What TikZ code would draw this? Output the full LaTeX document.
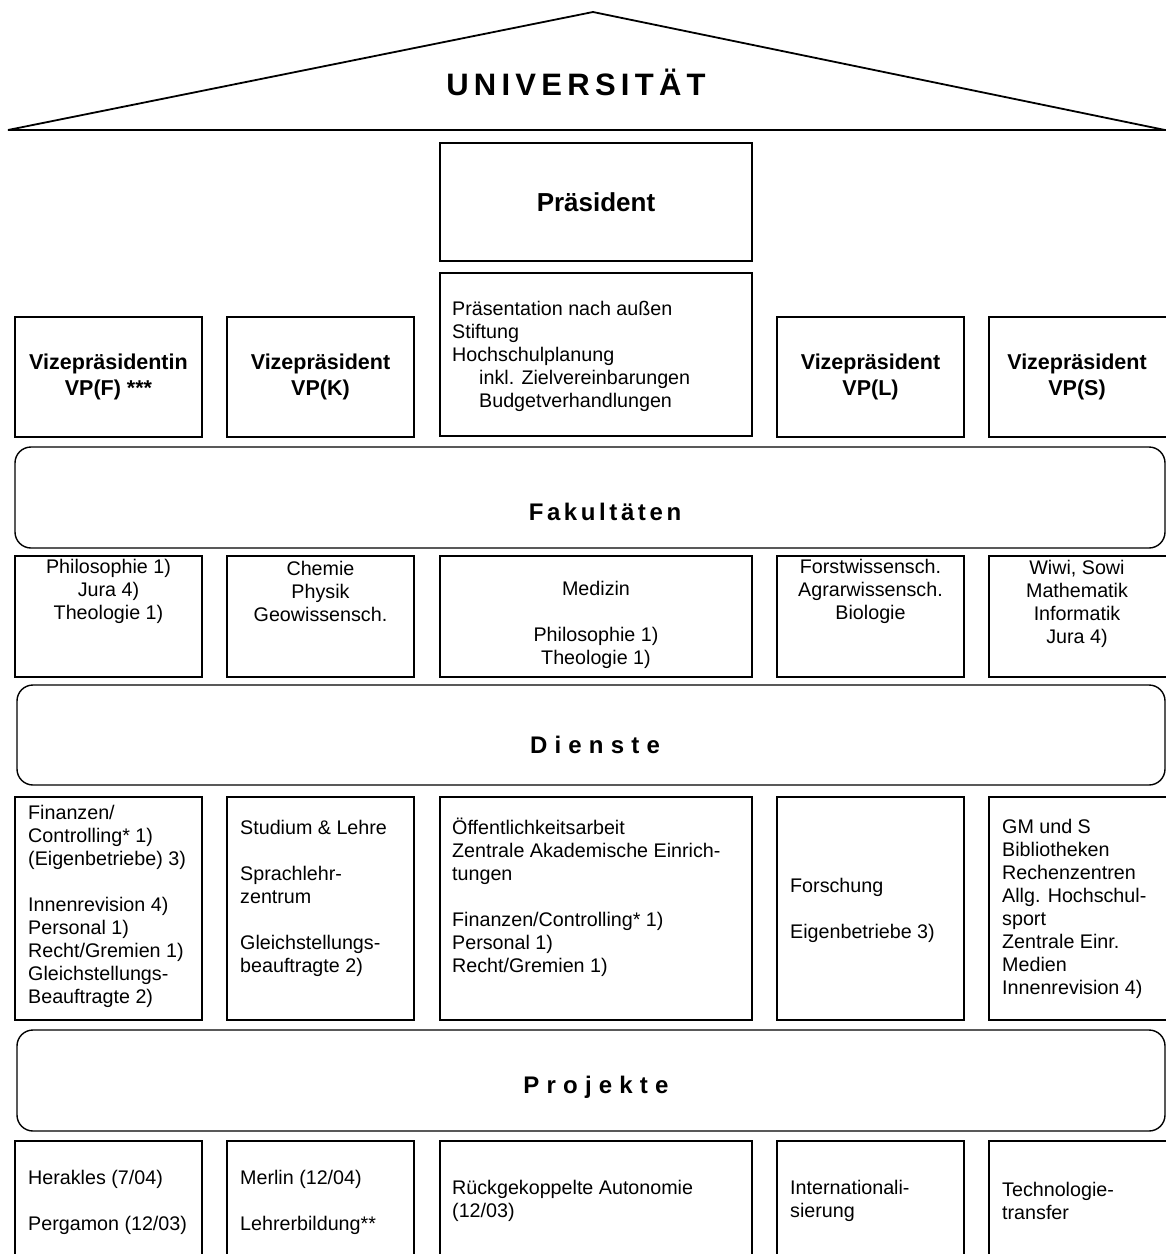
\documentclass[tikz,border=0pt]{standalone}
\usepackage{fontspec}
\setmainfont{Liberation Sans}
\usetikzlibrary{calc}

\begin{document}
\begin{tikzpicture}[x=1pt, y=-1pt,
    roof/.style={line width=1.8pt, line join=miter},
    box/.style={line width=1.2pt},
    bar/.style={line width=1.4pt, rounded corners=16pt},
    txt/.style={inner sep=0pt, align=left, font=\fontsize{19.7}{23}\selectfont},
    ctxt/.style={txt, align=center},
    vp/.style={inner sep=0pt, align=center, font=\bfseries\fontsize{21.5}{26}\selectfont},
    head/.style={inner sep=0pt, font=\bfseries\fontsize{26}{30}\selectfont},
    banner/.style={inner sep=0pt, font=\bfseries\fontsize{24}{28}\selectfont\addfontfeature{LetterSpace=#1}},
    every node/.style={color=black}]
    \useasboundingbox (0,0) rectangle (1166,1254);

    % dach
    \coordinate (eaveL) at (8,130);
    \coordinate (apex) at (593,12);
    \coordinate (eaveR) at (1165,130);
    \draw[roof] (eaveL) -- (apex) -- (eaveR) -- cycle;
    \node[inner sep=0pt, font=\bfseries\fontsize{31}{34}\selectfont\addfontfeature{LetterSpace=17}] (uni) at (576,82) {UNIVERSITÄT};

    % praesident und stab
    \draw[box] (440,143) rectangle (752,261);
    \node[head] (praes) at (596,202) {Präsident};
    \draw[box] (440,273) rectangle (752,436);
    \node[txt, anchor=west] (stab) at (452,356) {Präsentation nach außen\\Stiftung\\Hochschulplanung\\
        \hspace*{27pt}inkl. Zielvereinbarungen\\\hspace*{27pt}Budgetverhandlungen};

    % vizepraesidenten
    \draw[box] (15,317) rectangle (202,437)
               (227,317) rectangle (414,437)
               (777,317) rectangle (964,437)
               (989,317) rectangle (1180,437);
    \node[vp] (vpF) at (108.5,377) {Vizepräsidentin\\VP(F) ***};
    \node[vp] (vpK) at (320.5,377) {Vizepräsident\\VP(K)};
    \node[vp] (vpL) at (870.5,377) {Vizepräsident\\VP(L)};
    \node[vp] (vpS) at (1077,377) {Vizepräsident\\VP(S)};

    % fakultaeten
    \draw[bar] (15,447) rectangle (1165,548);
    \node[banner=15] (fak) at (605,512) {Fakultäten};
    \draw[box] (15,556) rectangle (202,677)
               (227,556) rectangle (414,677)
               (440,556) rectangle (752,677)
               (777,556) rectangle (964,677)
               (989,556) rectangle (1180,677);
    \node[ctxt] (fakF) at (108.5,591) {Philosophie 1)\\Jura 4)\\Theologie 1)};
    \node[ctxt] (fakK) at (320.5,591) {Chemie\\Physik\\Geowissensch.};
    \node[ctxt] (fakM) at (596,625) {Medizin\\[23pt]Philosophie 1)\\Theologie 1)};
    \node[ctxt] (fakL) at (870.5,591) {Forstwissensch.\\Agrarwissensch.\\Biologie};
    \node[ctxt] (fakS) at (1077,604) {Wiwi, Sowi\\Mathematik\\Informatik\\Jura 4)};

    % dienste
    \draw[bar] (17,685) rectangle (1165,785);
    \node[banner=30] (dienst) at (595,745) {Dienste};
    \draw[box] (15,797) rectangle (202,1020)
               (227,797) rectangle (414,1020)
               (440,797) rectangle (752,1020)
               (777,797) rectangle (964,1020)
               (989,797) rectangle (1180,1020);
    \node[txt, anchor=west] (dF) at (28,906) {Finanzen/\\Controlling* 1)\\(Eigenbetriebe) 3)\\[23pt]
        Innenrevision 4)\\Personal 1)\\Recht/Gremien 1)\\Gleichstellungs-\\Beauftragte 2)};
    \node[txt, anchor=west] (dK) at (240,898) {Studium \& Lehre\\[23pt]Sprachlehr-\\zentrum\\[23pt]
        Gleichstellungs-\\beauftragte 2)};
    \node[txt, anchor=west] (dM) at (452,897) {Öffentlichkeitsarbeit\\Zentrale Akademische Einrich-\\tungen\\[23pt]
        Finanzen/Controlling* 1)\\Personal 1)\\Recht/Gremien 1)};
    \node[txt, anchor=west] (dL) at (790,910) {Forschung\\[23pt]Eigenbetriebe 3)};
    \node[txt, anchor=west] (dS) at (1002,909) {GM und S\\Bibliotheken\\Rechenzentren\\Allg. Hochschul-\\sport\\
        Zentrale Einr.\\Medien\\Innenrevision 4)};

    % projekte
    \draw[bar] (17,1030) rectangle (1165,1131);
    \node[banner=30] (proj) at (596,1087) {Projekte};
    \draw[box] (15,1141) rectangle (202,1275)
               (227,1141) rectangle (414,1275)
               (440,1141) rectangle (752,1275)
               (777,1141) rectangle (964,1275)
               (989,1141) rectangle (1180,1275);
    \node[txt, anchor=west] (pF) at (28,1202) {Herakles (7/04)\\[23pt]Pergamon (12/03)};
    \node[txt, anchor=west] (pK) at (240,1202) {Merlin (12/04)\\[23pt]Lehrerbildung**};
    \node[txt, anchor=west] (pM) at (452,1201) {Rückgekoppelte Autonomie\\(12/03)};
    \node[txt, anchor=west] (pL) at (790,1201) {Internationali-\\sierung};
    \node[txt, anchor=west] (pS) at (1002,1201) {Technologie-\\transfer};
\end{tikzpicture}
\end{document}
